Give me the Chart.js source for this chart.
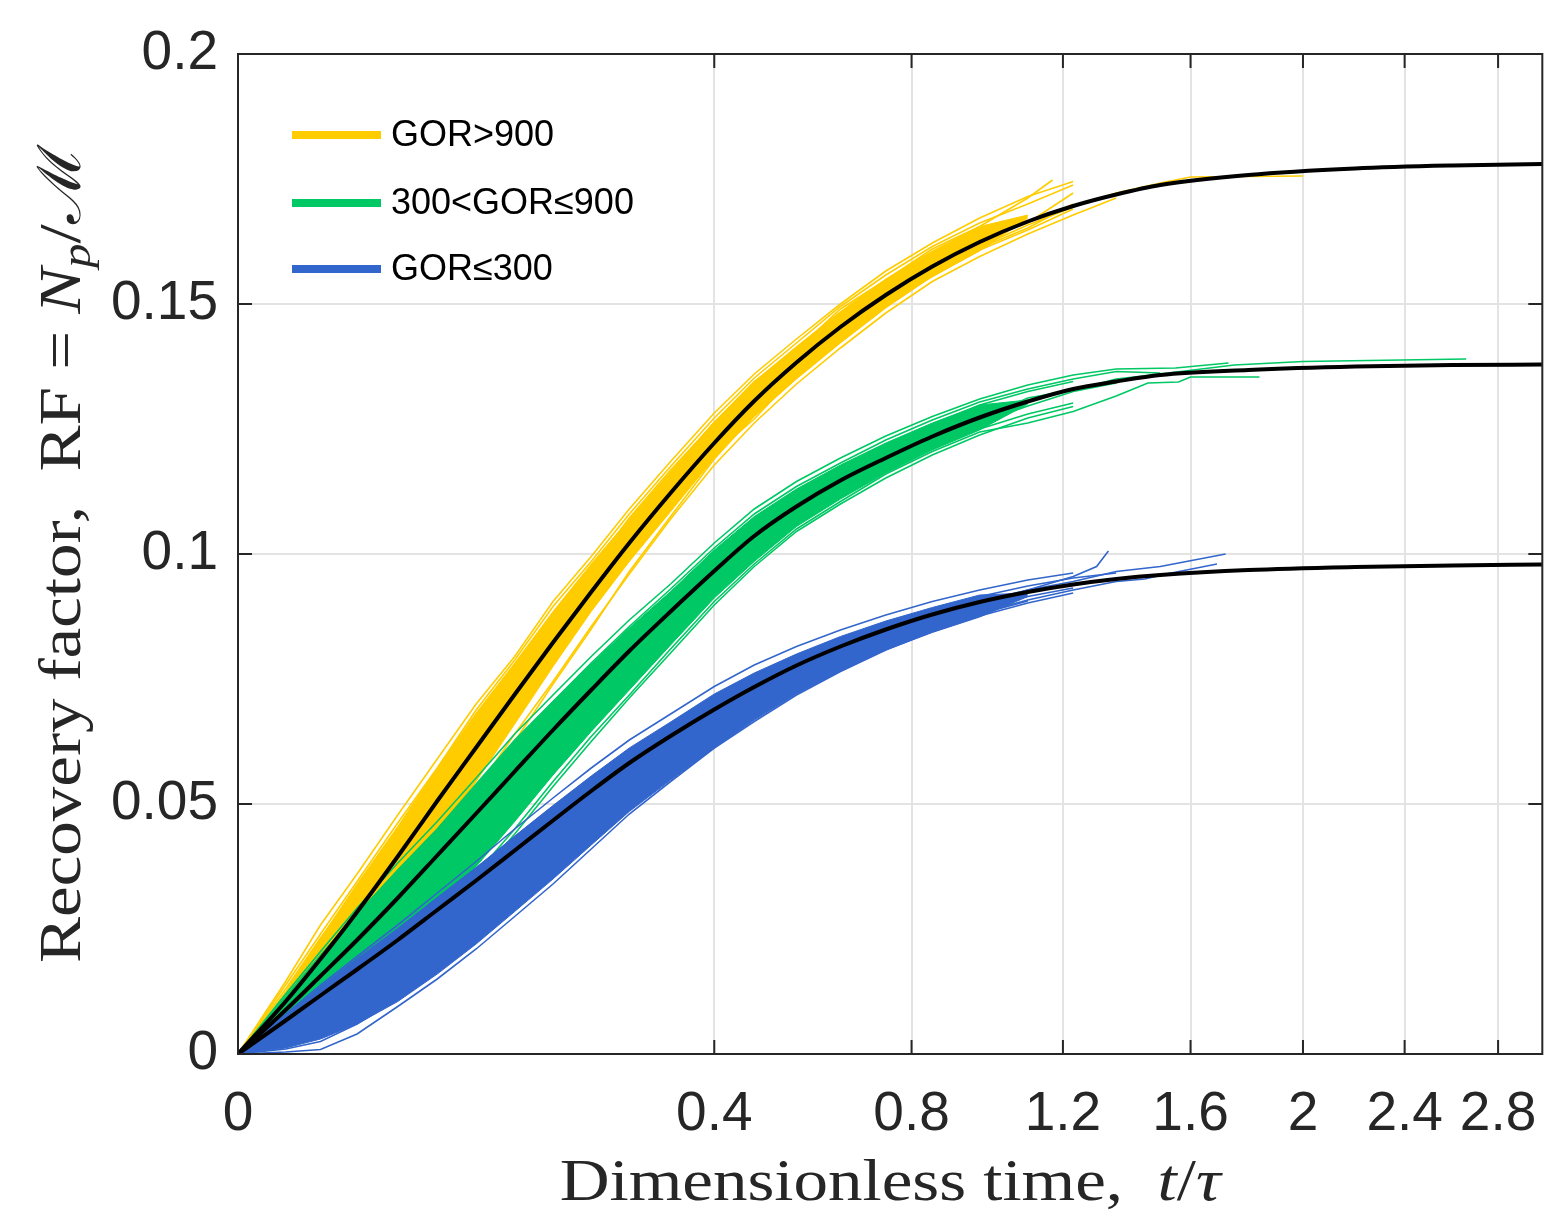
<!DOCTYPE html>
<html>
<head>
<meta charset="utf-8">
<script src="https://cdn.jsdelivr.net/npm/chart.js@4.4.0/dist/chart.umd.min.js"></script>
<style>
  html, body { margin: 0; padding: 0; background: #fff; }
  #wrap { width: 1565px; height: 1225px; position: relative; }
</style>
</head>
<body>
<div id="wrap"><canvas id="rf"></canvas></div>
<script>
// time grid (t/tau) shared by the well curves
var tGrid = [0, 0.004, 0.012, 0.025, 0.045, 0.07, 0.1, 0.135, 0.175, 0.22, 0.27, 0.33, 0.4, 0.47, 0.55, 0.64, 0.74, 0.85, 0.97, 1.1, 1.23, 1.36];
var tFit = tGrid.concat([1.5, 1.8, 2.2, 2.6, 3.0]);

var xTicks = [0, 0.4, 0.8, 1.2, 1.6, 2, 2.4, 2.8];
var yTicks = [0, 0.05, 0.1, 0.15, 0.2];

var groupNames = ['GOR>900', '300<GOR\u2264900', 'GOR\u2264300'];
var groupColors = ['#ffcc00', '#00c864', '#3366cc'];

// fitted model curves (black)
var fitHigh = [0, .0105, .0190, .0284, .0395, .0506, .0613, .0719, .0823, .0924, .1022, .1122, .1222, .1306, .1383, .1454, .1518, .1575, .1624, .1665, .1696, .1719, .1738, .1758, .1771, .1777, .1780];
var fitMid  = [0, .0088, .0156, .0228, .0312, .0397, .0481, .0565, .0648, .0728, .0806, .0885, .0966, .1036, .1095, .1147, .1192, .1235, .1273, .1305, .1330, .1345, .1358, .1368, .1375, .1378, .1379];
var fitLow  = [0, .0067, .0117, .0169, .0228, .0288, .0347, .0407, .0467, .0526, .0582, .0636, .0689, .0734, .0777, .0815, .0849, .0879, .0904, .0924, .0939, .0950, .0958, .0968, .0974, .0977, .0979];

// dense core of each well bundle (upper / lower)
var highUpper = [0, .0125, .0232, .0340, .0455, .0572, .0682, .0782, .0885, .0980, .1070, .1165, .1265, .1345, .1415, .1485, .1550, .1606, .1655, .1678];
var highLower = [0, .0090, .0160, .0232, .0330, .0438, .0545, .0660, .0775, .0885, .0985, .1085, .1192, .1275, .1350, .1422, .1492, .1555, .1606, .1672];
var midUpper  = [0, .0112, .0195, .0280, .0368, .0450, .0538, .0626, .0705, .0780, .0852, .0925, .1008, .1075, .1130, .1178, .1222, .1262, .1298, .1308];
var midLower  = [0, .0058, .0100, .0155, .0220, .0290, .0375, .0465, .0558, .0645, .0728, .0818, .0912, .0985, .1055, .1110, .1162, .1208, .1248, .1300];
var lowUpper  = [0, .0076, .0132, .0188, .0248, .0312, .0372, .0436, .0497, .0556, .0612, .0664, .0720, .0762, .0800, .0835, .0866, .0893, .0918, .0922];
var lowLower  = [0, .0012, .0030, .0060, .0105, .0160, .0220, .0285, .0350, .0418, .0485, .0548, .0612, .0668, .0720, .0765, .0808, .0843, .0874, .0915];

// individual wells
var highWells = [
  [0, .0145, .0258, .0360, .0478, .0590, .0700, .0795, .0905, .0995, .1090, .1185, .1282, .1360, .1430, .1500, .1566, .1622, .1672, .1715, .1745],
  [0, .0075, .0135, .0205, .0310, .0420, .0528, .0640, .0745, .0855, .0960, .1070, .1178, .1262, .1340, .1412, .1482, .1545, .1595, .1640, .1678, .1712],
  [0, .0112, .0198, .0276, .0402, .0500, .0625, .0712, .0830, .0918, .1030, .1115, .1230, .1300, .1390, .1448, .1524, .1570, .1630, .1662, .1722],
  [0, .0098, .0178, .0268, .0380, .0488, .0600, .0700, .0798, .0905, .0998, .1100, .1205, .1288, .1368, .1440, .1505, .1565, .1615, .1658, .1694, .1722],
  [0, .0130, .0232, .0330, .0450, .0560, .0672, .0770, .0880, .0970, .1072, .1168, .1262, .1345, .1408, .1490, .1548, .1610, .1655, .1712],
  [0, .0090, .0165, .0252, .0358, .0470, .0572, .0688, .0790, .0892, .0990, .1088, .1200, .1270, .1360, .1425, .1500, .1555, .1608, .1648, .1690],
  [0, .0070, .0125, .0190, .0290, .0400, .0510, .0625, .0740, .0850, .0965, .1075, .1190, .1278, .1355, .1430, .1495, .1560, .1612, .1652, .1700],
  [0, .0138, .0240, .0345, .0462, .0572, .0688, .0788, .0895, .0985, .1080, .1175, .1272, .1352, .1422, .1495, .1558, .1615, .1662, .1700, .1738]
];
var highTails = [[], [], [], [[1.5, .1742], [1.6, .1754], [2.0, .1756]], [[1.17, .1748]], [], [], []];

var midWells = [
  [0, .0120, .0205, .0292, .0382, .0465, .0552, .0640, .0718, .0795, .0868, .0940, .1022, .1090, .1145, .1192, .1236, .1275, .1310, .1338, .1358, .1370],
  [0, .0050, .0088, .0140, .0205, .0275, .0360, .0450, .0545, .0635, .0718, .0810, .0905, .0980, .1050, .1105, .1160, .1205, .1244, .1262, .1285, .1316],
  [0, .0092, .0150, .0235, .0305, .0405, .0475, .0575, .0642, .0738, .0800, .0895, .0960, .1045, .1090, .1155, .1188, .1242, .1270, .1312, .1328, .1350],
  [0, .0110, .0185, .0262, .0350, .0432, .0520, .0608, .0692, .0768, .0842, .0918, .1000, .1068, .1124, .1172, .1215, .1258, .1298, .1325, .1345],
  [0, .0060, .0105, .0165, .0235, .0310, .0395, .0482, .0575, .0665, .0748, .0835, .0925, .0990, .1062, .1115, .1168, .1215, .1250, .1280, .1302],
  [0, .0072, .0128, .0195, .0275, .0355, .0445, .0535, .0622, .0705, .0782, .0860, .0942, .1012, .1075, .1128, .1175, .1222, .1262, .1296, .1325, .1342],
  [0, .0115, .0198, .0280, .0368, .0450, .0540, .0628, .0705, .0782, .0855, .0930, .1012, .1080, .1135, .1182, .1228, .1268, .1304, .1330, .1350, .1365],
  [0, .0040, .0075, .0120, .0185, .0262, .0350, .0440, .0535, .0625, .0712, .0802, .0898, .0975, .1045, .1100, .1152, .1198, .1238, .1272, .1295]
];
var midTails = [
  [[1.55, .1372], [1.73, .1382]],
  [[1.46, .1342], [1.56, .1344], [1.6, .1354], [1.84, .1354]],
  [[1.5, .1360], [1.75, .1378], [2.0, .1385], [2.66, .1390]],
  [], [], [], [[1.5, .1362]], []
];

var lowWells = [
  [0, .0080, .0138, .0195, .0258, .0322, .0385, .0450, .0512, .0572, .0628, .0680, .0735, .0778, .0815, .0848, .0878, .0905, .0928, .0948, .0962],
  [0, .0004, .0009, .0040, .0095, .0150, .0210, .0275, .0340, .0410, .0480, .0545, .0612, .0665, .0718, .0765, .0808, .0845, .0876, .0902, .0922],
  [0, .0070, .0120, .0175, .0230, .0295, .0350, .0415, .0470, .0535, .0585, .0642, .0690, .0740, .0778, .0822, .0850, .0885, .0905, .0928, .0945, .0965],
  [0, .0025, .0052, .0090, .0140, .0200, .0262, .0328, .0395, .0460, .0520, .0578, .0638, .0688, .0735, .0778, .0818, .0852, .0882, .0908, .0928, .0945],
  [0, .0060, .0105, .0155, .0212, .0272, .0332, .0395, .0458, .0518, .0572, .0625, .0678, .0722, .0765, .0805, .0840, .0872, .0900, .0928, .0955],
  [0, .0035, .0068, .0110, .0162, .0222, .0285, .0350, .0415, .0480, .0538, .0595, .0650, .0700, .0745, .0788, .0826, .0860, .0890, .0915, .0932],
  [0, .0078, .0134, .0190, .0250, .0312, .0372, .0434, .0494, .0552, .0605, .0656, .0712, .0752, .0795, .0830, .0862, .0890, .0915, .0936, .0952, .0962],
  [0, .0010, .0025, .0060, .0110, .0170, .0232, .0300, .0368, .0435, .0498, .0560, .0622, .0678, .0728, .0772, .0812, .0848, .0880, .0906]
];
var lowTails = [[], [], [[1.5, .0975], [1.72, .1000]], [[1.45, .0950], [1.52, .0960], [1.69, .0980]], [[1.30, .0975], [1.336, .1006]], [], [], []];

// sqrt time axis
class SqrtScale extends Chart.LinearScale {
  getPixelForValue(value) {
    var a = Math.sqrt(this.min), b = Math.sqrt(this.max);
    return this.getPixelForDecimal((Math.sqrt(Math.max(value, 0)) - a) / (b - a));
  }
  getValueForPixel(pixel) {
    var a = Math.sqrt(this.min), b = Math.sqrt(this.max);
    var s = a + this.getDecimalForPixel(pixel) * (b - a);
    return s * s;
  }
}
SqrtScale.id = 'sqrt';
SqrtScale.defaults = {};
Chart.register(SqrtScale);

function pts(ts, vals) {
  return vals.map(function (v, i) { return { x: ts[i], y: v }; });
}

var datasets = [];
function addGroup(wells, tails, upper, lower, color, order) {
  datasets.push({ data: pts(tGrid, upper), borderColor: color, backgroundColor: color, borderWidth: 1, fill: '+1', order: order });
  datasets.push({ data: pts(tGrid, lower), borderColor: color, borderWidth: 1, fill: false, order: order });
  wells.forEach(function (w, i) {
    var d = pts(tGrid, w).concat(tails[i].map(function (p) { return { x: p[0], y: p[1] }; }));
    datasets.push({ data: d, borderColor: color, borderWidth: 1.6, fill: false, order: order });
  });
}
addGroup(highWells, highTails, highUpper, highLower, groupColors[0], 3);
addGroup(midWells, midTails, midUpper, midLower, groupColors[1], 2);
addGroup(lowWells, lowTails, lowUpper, lowLower, groupColors[2], 1);
[fitHigh, fitMid, fitLow].forEach(function (f) {
  datasets.push({ data: pts(tFit, f), borderColor: '#000', borderWidth: 4, fill: false, order: 0, cubicInterpolationMode: 'monotone' });
});

function richText(ctx, parts, x, y, rotate, sx) {
  ctx.save();
  ctx.translate(x, y);
  if (rotate) ctx.rotate(-Math.PI / 2);
  ctx.scale(sx, 1);
  var total = 0;
  parts.forEach(function (p) { ctx.font = p.font; p.w = ctx.measureText(p.text).width; total += p.w; });
  var cx = -total / 2;
  ctx.textAlign = 'left';
  ctx.textBaseline = 'alphabetic';
  ctx.fillStyle = '#262626';
  parts.forEach(function (p) { ctx.font = p.font; ctx.fillText(p.text, cx, p.dy || 0); cx += p.w; });
  ctx.restore();
}

var serif = '"Liberation Serif", "DejaVu Serif", serif';
var decor = {
  id: 'decor',
  afterDatasetsDraw: function (chart) {
    var ctx = chart.ctx, a = chart.chartArea;
    var xs = chart.scales.x, ys = chart.scales.y;
    ctx.save();
    ctx.strokeStyle = '#262626';
    ctx.lineWidth = 2;
    ctx.strokeRect(a.left, a.top, a.right - a.left, a.bottom - a.top);
    ctx.beginPath();
    xTicks.forEach(function (v) {
      var px = xs.getPixelForValue(v);
      ctx.moveTo(px, a.bottom); ctx.lineTo(px, a.bottom - 14);
      ctx.moveTo(px, a.top); ctx.lineTo(px, a.top + 14);
    });
    yTicks.forEach(function (v) {
      var py = ys.getPixelForValue(v);
      ctx.moveTo(a.left, py); ctx.lineTo(a.left + 14, py);
      ctx.moveTo(a.right, py); ctx.lineTo(a.right - 14, py);
    });
    ctx.stroke();
    ctx.restore();
  },
  afterDraw: function (chart) {
    var ctx = chart.ctx, a = chart.chartArea;
    // legend
    var rows = [135, 203, 269];
    ctx.save();
    groupNames.forEach(function (name, i) {
      ctx.strokeStyle = groupColors[i];
      ctx.lineWidth = 8;
      ctx.beginPath();
      ctx.moveTo(292, rows[i]); ctx.lineTo(381, rows[i]);
      ctx.stroke();
      ctx.fillStyle = '#000';
      ctx.font = '36px "Liberation Sans", Arial, sans-serif';
      ctx.textBaseline = 'middle';
      ctx.fillText(name, 391, rows[i] + 1);
    });
    ctx.restore();
    // axis titles
    richText(ctx, [
      { text: 'Dimensionless time,  ', font: '60px ' + serif },
      { text: 't', font: 'italic 60px ' + serif },
      { text: '/', font: '60px ' + serif },
      { text: '\u03c4', font: 'italic 60px ' + serif }
    ], (a.left + a.right) / 2, 1200, false, 1.15);
    richText(ctx, [
      { text: 'Recovery factor,  RF = ', font: '60px ' + serif },
      { text: 'N', font: 'italic 60px ' + serif },
      { text: 'p', font: 'italic 42px ' + serif, dy: 10 },
      { text: '/', font: '60px ' + serif },
      { text: '\u2133', font: '60px ' + serif }
    ], 80, (a.top + a.bottom) / 2, true, 1.15);
  }
};

Chart.defaults.font.family = '"Liberation Sans", Arial, sans-serif';
new Chart(document.getElementById('rf'), {
  type: 'line',
  data: { datasets: datasets },
  options: {
    responsive: true,
    maintainAspectRatio: false,
    animation: false,
    events: [],
    devicePixelRatio: 1,
    layout: { padding: { top: 54, right: 20, left: 0, bottom: 0 } },
    elements: { point: { radius: 0 }, line: { tension: 0 } },
    plugins: { legend: { display: false }, tooltip: { enabled: false } },
    scales: {
      x: {
        type: 'sqrt', min: 0, max: 3, bounds: 'data',
        afterBuildTicks: function (s) { s.ticks = xTicks.map(function (v) { return { value: v }; }); },
        afterFit: function (s) { s.height = 171; },
        grid: { color: '#e3e3e3', lineWidth: 2, drawTicks: false },
        border: { display: false },
        ticks: { padding: 28, color: '#262626', font: { size: 55 }, maxRotation: 0, autoSkip: false,
                 callback: function (v) { return String(v); } }
      },
      y: {
        type: 'linear', min: 0, max: 0.2,
        afterBuildTicks: function (s) { s.ticks = yTicks.map(function (v) { return { value: v }; }); },
        afterFit: function (s) { s.width = 238; },
        grid: { color: '#e3e3e3', lineWidth: 2, drawTicks: false },
        border: { display: false },
        ticks: { padding: 20, color: '#262626', font: { size: 55 },
                 callback: function (v) { return String(v); } }
      }
    }
  },
  plugins: [decor]
});
</script>
</body>
</html>
